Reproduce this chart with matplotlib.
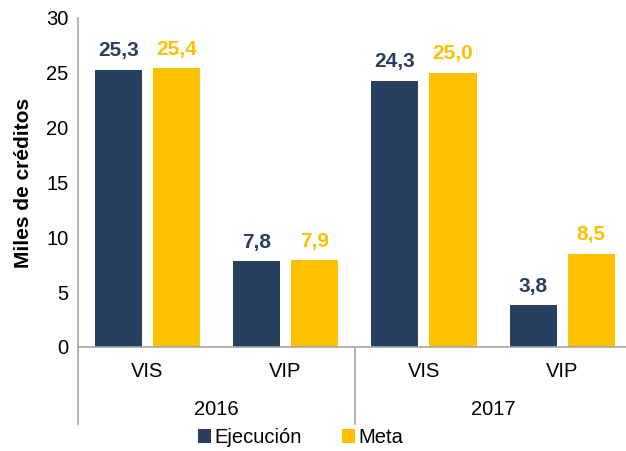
import numpy as np
import matplotlib.pyplot as plt

plt.rcParams['font.family'] = ['Liberation Sans', 'DejaVu Sans']

tipos = ['VIS', 'VIP', 'VIS', 'VIP']
anios = ['2016', '2017']
ejecucion = [25.3, 7.8, 24.3, 3.8]
meta = [25.4, 7.9, 25.0, 8.5]

navy = '#27405F'
amarillo = '#FFC000'
gris = '#A6A6A6'

fig = plt.figure(figsize=(6.26, 4.51), dpi=100)
ax = fig.add_axes([0.1246, 0.2306, 0.8754, 0.7295])

x = np.arange(len(tipos))
w = 0.34
b1 = ax.bar(x - 0.21, ejecucion, w, color=navy, label='Ejecución')
b2 = ax.bar(x + 0.21, meta, w, color=amarillo, label='Meta')

for bars, vals, c in [(b1, ejecucion, navy), (b2, meta, amarillo)]:
    for r, v in zip(bars, vals):
        ax.annotate(f'{v:.1f}'.replace('.', ','), (r.get_x() + r.get_width() / 2, v),
                    xytext=(0, 7), textcoords='offset points', ha='center', va='bottom',
                    fontsize=15, fontweight='bold', color=c)

ax.set_ylim(0, 30)
ax.set_xlim(-0.5, 3.46)
ax.set_yticks(range(0, 31, 5))
ax.tick_params(axis='y', length=0, labelsize=14.5, pad=7)
ax.set_xticks([])
ax.set_ylabel('Miles de créditos', fontsize=15, fontweight='bold', labelpad=9)

for s in ['top', 'right']:
    ax.spines[s].set_visible(False)
ax.spines['left'].set_color(gris)
ax.spines['bottom'].set_color(gris)
ax.spines['left'].set_linewidth(1.2)
ax.spines['bottom'].set_linewidth(1.2)

# two-level category axis
ext = -0.234
ax.plot([-0.5, -0.5], [0, ext], transform=ax.get_xaxis_transform(), color=gris, lw=1.2, clip_on=False)
ax.plot([1.5, 1.5], [0, ext], transform=ax.get_xaxis_transform(), color=gris, lw=1.2, clip_on=False)
for xi, t in zip(x, tipos):
    ax.text(xi, -0.075, t, transform=ax.get_xaxis_transform(), ha='center', va='center', fontsize=14.5)
for i, a in enumerate(anios):
    ax.text(0.5 + 2 * i, -0.19, a, transform=ax.get_xaxis_transform(), ha='center', va='center', fontsize=14.5)

fig.legend(loc='center', bbox_to_anchor=(0.48, 0.03), ncol=2, frameon=False, fontsize=14.5,
           handlelength=0.65, handleheight=0.65, handletextpad=0.15, columnspacing=2.0)

fig.savefig('out.png', dpi=100)
